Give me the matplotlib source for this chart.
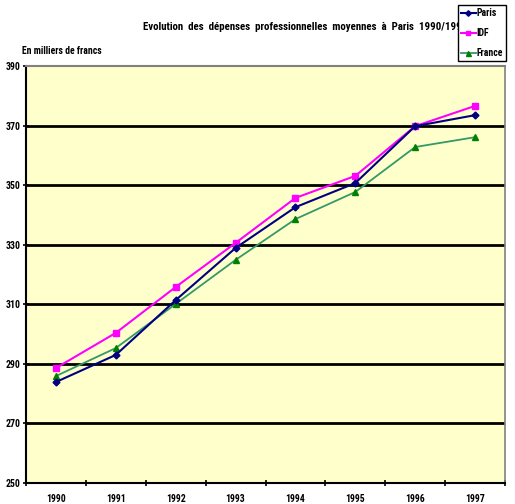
import matplotlib.pyplot as plt
from matplotlib import font_manager

# data
years = ["1990", "1991", "1992", "1993", "1994", "1995", "1996", "1997"]
paris = [283.9, 293.0, 311.4, 328.9, 342.6, 350.7, 369.8, 373.5]
idf = [288.6, 300.4, 315.8, 330.6, 345.7, 353.1, 369.8, 376.6]
france = [285.9, 295.3, 310.1, 324.9, 338.6, 347.7, 362.8, 366.1]
yticks = [250, 270, 290, 310, 330, 350, 370, 390]

# pick a narrow face if there is one
names = {f.name for f in font_manager.fontManager.ttflist}
narrow = [n for n in ["Liberation Sans Narrow", "DejaVu Sans Condensed",
                      "Roboto Condensed", "Open Sans Condensed"] if n in names]
font = narrow + ["DejaVu Sans"]
condensed = bool(narrow)

fig = plt.figure(figsize=(5.15, 5.04), dpi=100)
W, H = 515, 504
ax = fig.add_axes([26 / W, 1 - 483 / H, (505 - 26) / W, (483 - 66) / H])
ax.set_facecolor("#FFFFCC")

x = list(range(len(years)))
ax.plot(x, paris, color="#000080", lw=1.5, marker="D", ms=3.5, label="Paris", zorder=4)
ax.plot(x, idf, color="#FF00FF", lw=1.5, marker="s", ms=4, label="IDF", zorder=3)
ax.plot(x, france, color="#339966", lw=1.3, marker="^", ms=4.5,
        mfc="#008000", mec="#008000", label="France", zorder=3)

fs = 7 if condensed else 6
ax.set_xlim(-0.5, len(years) - 0.5)
ax.set_ylim(250, 390)
ax.set_yticks(yticks)
ax.set_yticklabels([str(v) for v in yticks], fontfamily=font, fontweight="bold", fontsize=fs)
for v in yticks[1:-1]:
    ax.axhline(v, color="black", lw=2, zorder=1)

ax.set_xticks([i - 0.5 for i in range(len(years) + 1)])
ax.set_xticklabels([])
ax.set_xticks(x, minor=True)
ax.set_xticklabels(years, minor=True, fontfamily=font, fontweight="bold", fontsize=fs)
ax.tick_params(axis="x", which="minor", length=0, pad=8)
ax.tick_params(axis="x", which="major", length=4, width=1.2, direction="inout")
ax.tick_params(axis="y", length=4, width=1.2, direction="inout", pad=2)

ax.spines["left"].set_linewidth(1.5)
ax.spines["bottom"].set_linewidth(1.5)
ax.spines["top"].set_color("#808080")
ax.spines["top"].set_linewidth(1.5)
ax.spines["right"].set_color("#808080")
ax.spines["right"].set_linewidth(1.2)

fig.text(143 / W, 1 - 27 / H,
         "Evolution  des  dépenses  professionnelles  moyennes  à  Paris  1990/1997",
         fontfamily=font, fontweight="bold", fontsize=fs * 1.12, va="center", ha="left")
fig.text(22 / W, 1 - 51 / H, "En milliers de francs",
         fontfamily=font, fontweight="bold", fontsize=fs, va="center", ha="left")

leg = fig.legend(loc="upper right", bbox_to_anchor=(506 / W, 1 - 5 / H),
                 prop={"family": font, "weight": "bold", "size": fs},
                 frameon=True, fancybox=False, edgecolor="black",
                 handlelength=1.5, handletextpad=0.1, borderpad=0.3,
                 labelspacing=1.05, borderaxespad=0, markerscale=0.8)
leg.get_frame().set_linewidth(1)
leg.get_frame().set_alpha(1)
leg.set_zorder(10)

plt.savefig("out.png", dpi=100)
